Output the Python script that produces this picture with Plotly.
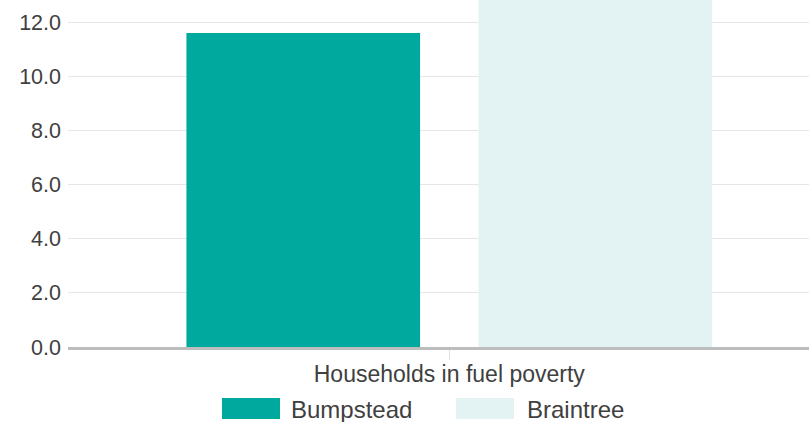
import plotly.graph_objects as go

categories = ["Households in fuel poverty"]
series_names = ["Bumpstead", "Braintree"]
bumpstead_values = [11.6]
braintree_values = [13.6]
series_colors = ["#00A99D", "#E3F3F3"]
y_tick_values = [0, 2, 4, 6, 8, 10, 12]
y_tick_labels = ["0.0", "2.0", "4.0", "6.0", "8.0", "10.0", "12.0"]

W, H = 809, 422
ML, MR, MT, MB = 68, 0, 0, 75
PW, PH = W - ML - MR, H - MT - MB

def px_x(p):
    return (p - ML) / PW

def px_y(p):
    return (H - MB - p) / PH

fig = go.Figure()
for name, vals, col in zip(series_names, [bumpstead_values, braintree_values], series_colors):
    fig.add_trace(go.Bar(x=categories, y=vals, name=name, marker=dict(color=col, line=dict(width=0)),
                         showlegend=False))

font_family = "Liberation Sans, Arial, sans-serif"
text_color = "#404040"

# custom legend (wide swatches)
legend_pos = [(222, 280, 289), (456, 514, 525)]
for (x0, x1, tx), name, col in zip(legend_pos, series_names, series_colors):
    fig.add_shape(type="rect", xref="paper", yref="paper",
                  x0=px_x(x0), x1=px_x(x1), y0=px_y(419), y1=px_y(398),
                  fillcolor=col, line=dict(width=0), layer="above")
    fig.add_annotation(text=name, xref="paper", yref="paper", x=px_x(tx), y=px_y(409),
                       xanchor="left", yanchor="middle", showarrow=False,
                       font=dict(size=24, color=text_color, family=font_family))

fig.update_layout(
    width=W, height=H,
    margin=dict(l=ML, r=MR, t=MT, b=MB, pad=0),
    paper_bgcolor="white", plot_bgcolor="white",
    barmode="group", bargap=0.234, bargroupgap=0.2,
    font=dict(family=font_family, size=21, color=text_color),
    xaxis=dict(type="category", range=[-0.5, 0.4717], showgrid=False,
               showline=True, linecolor="#BDBDBD", linewidth=3,
               ticks="outside", ticklen=10, tickwidth=1, tickcolor="#E0E0E0",
               ticklabelstandoff=-6,
               tickfont=dict(size=23, color=text_color), fixedrange=True),
    yaxis=dict(range=[0, 12.82], tickvals=y_tick_values, ticktext=y_tick_labels,
               showgrid=True, gridcolor="#E6E6E6", gridwidth=1,
               zeroline=False, showline=False, ticks="",
               ticklabelstandoff=6,
               tickfont=dict(size=21.5, color=text_color), fixedrange=True),
)

fig.write_html("out.html", config={"displayModeBar": False},
               post_script="document.body.style.margin='0';document.body.style.overflow='hidden';")
